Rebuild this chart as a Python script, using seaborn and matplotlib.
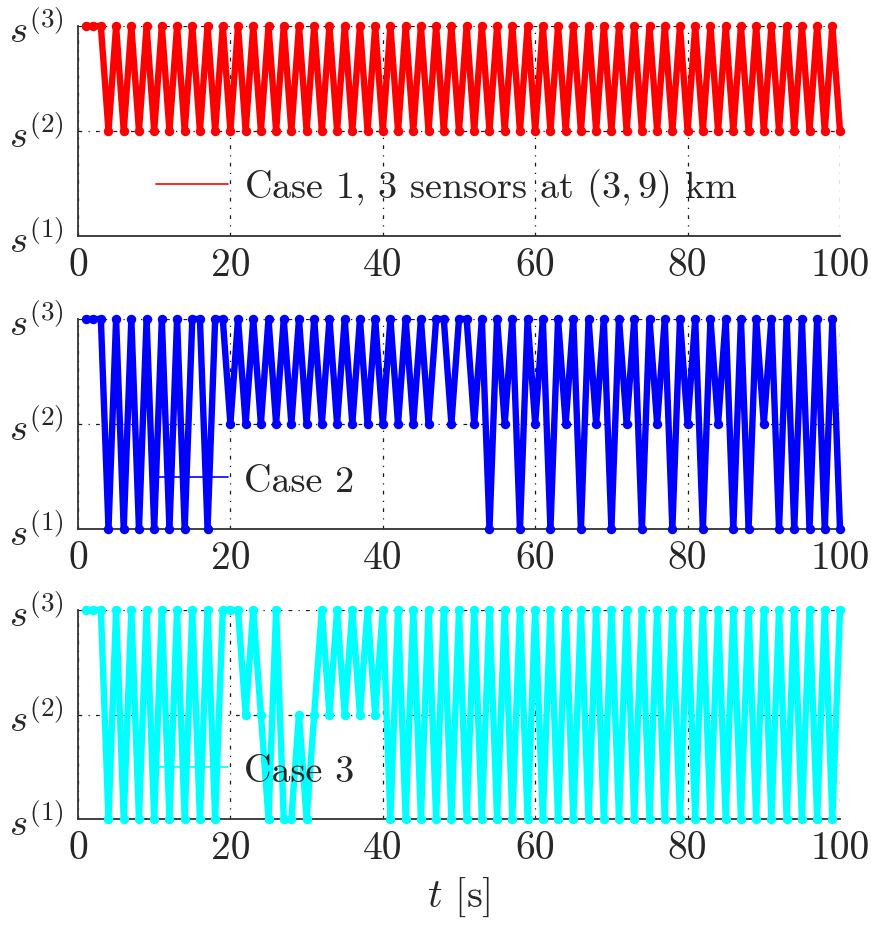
import matplotlib
matplotlib.use('Agg')
import matplotlib.pyplot as plt
import pandas as pd
import seaborn as sns
from matplotlib.lines import Line2D

# time instants [s]
t = list(range(1, 101))

# sensor-selection index (1, 2, 3 -> s^(1), s^(2), s^(3)), one row per 10 s
case1 = [3, 3, 3, 2, 3, 2, 3, 2, 3, 2,
         3, 2, 3, 2, 3, 2, 3, 2, 3, 2,
         3, 2, 3, 2, 3, 2, 3, 2, 3, 2,
         3, 2, 3, 2, 3, 2, 3, 2, 3, 2,
         3, 2, 3, 2, 3, 2, 3, 2, 3, 2,
         3, 2, 3, 2, 3, 2, 3, 2, 3, 2,
         3, 2, 3, 2, 3, 2, 3, 2, 3, 2,
         3, 2, 3, 2, 3, 2, 3, 2, 3, 2,
         3, 2, 3, 2, 3, 2, 3, 2, 3, 2,
         3, 2, 3, 2, 3, 2, 3, 2, 3, 2]

case2 = [3, 3, 3, 1, 3, 1, 3, 1, 3, 1,
         3, 1, 3, 1, 3, 3, 1, 3, 3, 2,
         3, 2, 3, 2, 3, 2, 3, 2, 3, 2,
         3, 2, 3, 2, 3, 2, 3, 2, 3, 2,
         3, 2, 3, 2, 3, 2, 3, 3, 2, 3,
         3, 2, 3, 1, 3, 2, 3, 1, 3, 2,
         3, 1, 3, 2, 3, 1, 3, 2, 3, 1,
         3, 2, 3, 1, 3, 2, 3, 1, 3, 2,
         3, 1, 3, 2, 3, 1, 3, 1, 3, 2,
         3, 1, 3, 1, 3, 1, 3, 1, 3, 1]

case3 = [3, 3, 3, 1, 3, 1, 3, 1, 3, 1,
         3, 1, 3, 1, 3, 1, 3, 1, 3, 3,
         3, 2, 3, 2, 1, 3, 1, 1, 2, 1,
         2, 3, 2, 3, 2, 3, 2, 3, 2, 3,
         1, 3, 1, 3, 1, 3, 1, 3, 1, 3,
         1, 3, 1, 3, 1, 3, 1, 3, 1, 3,
         1, 3, 1, 3, 1, 3, 1, 3, 1, 3,
         1, 3, 1, 3, 1, 3, 1, 3, 1, 3,
         1, 3, 1, 3, 1, 3, 1, 3, 1, 3,
         1, 3, 1, 3, 1, 3, 1, 3, 1, 3]

series = [case1, case2, case3]
labels = ['Case 1, 3 sensors at $(3,9)$ km', 'Case 2', 'Case 3']
colors = ['#ff0000', '#0000ff', '#00ffff']
xticks = [0, 20, 40, 60, 80, 100]
xtick_labels = ['0', '20', '40', '60', '80', '100']
yticks = [1, 2, 3]
ytick_labels = [r'$s^{(1)}$', r'$s^{(2)}$', r'$s^{(3)}$']
xlabel = r'$t$ [s]'

sns.set_theme(style='white')
plt.rcParams.update({
    'font.family': 'serif',
    'font.serif': ['cmr10', 'DejaVu Serif'],
    'mathtext.fontset': 'cm',
    'axes.unicode_minus': False,
})

W, H = 871, 929
fig = plt.figure(figsize=(W / 100, H / 100), dpi=100)
left_px, right_px = 78, 840
tops = [27, 320, 611]
bottoms = [237, 530, 820]

for i in range(3):
    ax = fig.add_axes([left_px / W, 1 - bottoms[i] / H,
                       (right_px - left_px) / W, (bottoms[i] - tops[i]) / H])
    df = pd.DataFrame({'t': t, 's': series[i]})
    sns.lineplot(data=df, x='t', y='s', ax=ax, color=colors[i], linewidth=4.6,
                 marker='o', markersize=6.8, markeredgewidth=0, legend=False,
                 zorder=3)
    for ln in ax.lines:
        ln.set_clip_on(False)
        ln.set_solid_joinstyle('round')
    ax.set_xlim(0, 100)
    ax.set_ylim(1, 3)
    ax.set_xticks(xticks)
    ax.set_xticklabels(xtick_labels, fontsize=28.5)
    ax.set_yticks(yticks)
    ax.set_yticklabels(ytick_labels, fontsize=28)
    ax.tick_params(axis='both', length=0)
    ax.tick_params(axis='x', pad=8)
    ax.tick_params(axis='y', pad=10)
    ax.grid(True, color='k', linestyle=(0, (3, 5, 1, 5)), linewidth=0.9)
    ax.set_axisbelow(True)
    for side in ['top', 'right']:
        ax.spines[side].set_visible(False)
    for side in ['left', 'bottom']:
        ax.spines[side].set_color('#333333')
        ax.spines[side].set_linewidth(1.3)
    ax.set_xlabel('')
    ax.set_ylabel('')
    ax.legend(handles=[Line2D([], [], color=colors[i], lw=1.2)], labels=[labels[i]],
              loc='center left', bbox_to_anchor=(0.102, 0.23), frameon=False,
              fontsize=27.5, handlelength=1.9, handletextpad=0.4,
              borderpad=0, borderaxespad=0)
    if i == 2:
        ax.set_xlabel(xlabel, fontsize=29, labelpad=6)

fig.savefig('out.png', dpi=100)
